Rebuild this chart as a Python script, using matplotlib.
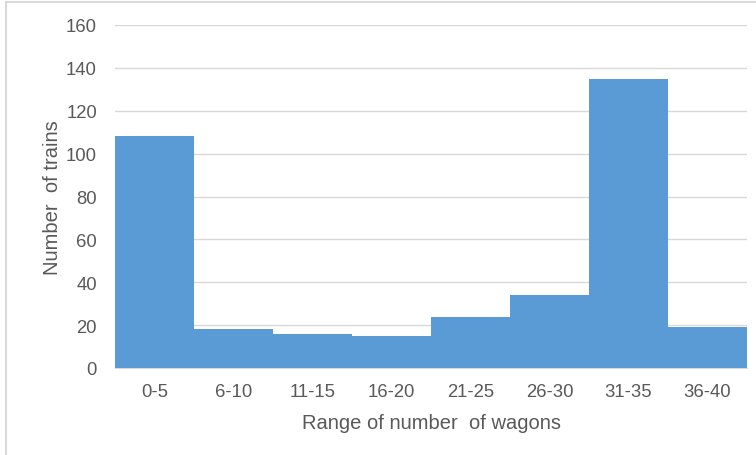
import matplotlib
matplotlib.use("Agg")
import matplotlib.pyplot as plt
from matplotlib.patches import Rectangle

categories = ["0-5", "6-10", "11-15", "16-20", "21-25", "26-30", "31-35", "36-40"]
trains = [108, 18, 16, 15, 24, 34, 135, 19]
yticks = [0, 20, 40, 60, 80, 100, 120, 140, 160]

plt.rcParams['font.family'] = ['Liberation Sans', 'DejaVu Sans']
txt = '#595959'

fig = plt.figure(figsize=(7.56, 4.56), dpi=100)
# outer chart border (left and top visible)
fig.patches.append(Rectangle((6/756, -0.1), 1.2, 1 - 3/456 + 0.1, transform=fig.transFigure,
                             fill=False, edgecolor='#D9D9D9', linewidth=1.5))
ax = fig.add_axes([115/756, 1 - 369/456, (747 - 115)/756, (369 - 26)/456])
x = range(len(categories))
ax.bar(x, trains, width=1.0, color='#5B9BD5', edgecolor='none', zorder=3)
ax.set_xlim(-0.5, len(categories) - 0.5)
ax.set_ylim(0, 160)
ax.set_yticks(yticks)
ax.set_xticks(list(x))
ax.set_xticklabels(categories)
ax.grid(axis='y', color='#D9D9D9', linewidth=1, zorder=0)
for s in ['top', 'right', 'left']:
    ax.spines[s].set_visible(False)
ax.spines['bottom'].set_color('#D9D9D9')
ax.tick_params(length=0, labelsize=13.3, colors=txt)
ax.tick_params(axis='x', pad=11)
ax.tick_params(axis='y', pad=13)
ax.set_xlabel("Range of number  of wagons", fontsize=14.5, color=txt, labelpad=9)
ax.set_ylabel("Number  of trains", fontsize=14.5, color=txt, labelpad=3)
fig.savefig("out.png", dpi=100)
